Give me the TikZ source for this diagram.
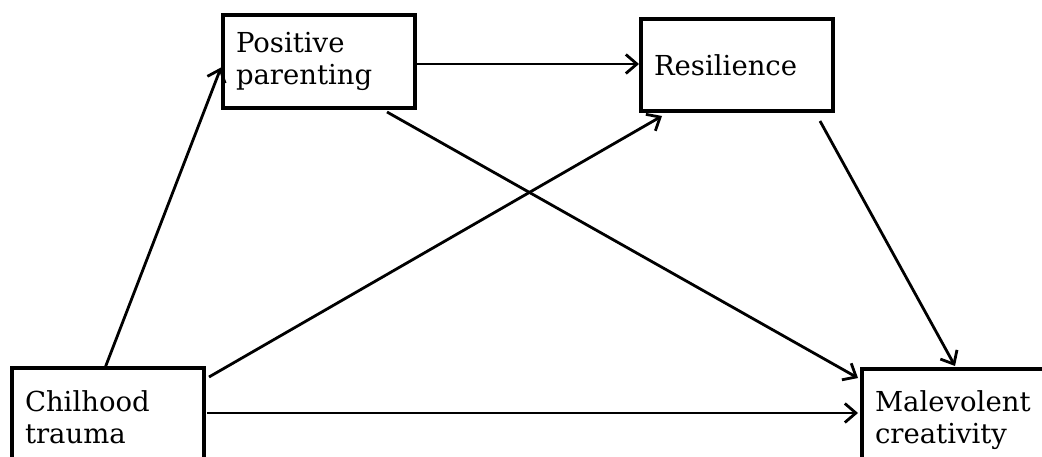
\documentclass[tikz,border=0pt]{standalone}
\usepackage{fontspec}
\setmainfont{DejaVu Serif}
\usetikzlibrary{arrows.meta}
\begin{document}
\begin{tikzpicture}[x=1pt,y=-1pt,
  box/.style={draw, line width=3.4pt, outer sep=0pt, text width=166pt, inner xsep=13pt, inner ysep=0pt,
    minimum width=192pt, align=left, font={\fontsize{27.5}{32}\selectfont}, anchor=north west},
  link/.style={line width=2.8pt, -{Straight Barb[length=11pt,width=19pt,line width=2.8pt]}}]
\useasboundingbox (0,0) rectangle (1042,457);
\clip (0,0) rectangle (1042,457);
\fill[white] (0,0) rectangle (1042,457);

\node[box, minimum height=93pt] (pp) at (223,15) {Positive\\parenting};
\node[box, minimum height=92pt] (res) at (641,19) {Resilience};
\node[box, minimum height=99pt] (cht) at (12,368) {Chilhood\\trauma};
\node[box, minimum height=102pt, text width=180pt, minimum width=206pt] (mc) at (862,369) {Malevolent\\creativity};

\draw[link] ([xshift=93pt]cht.north west) -- ([xshift=-2pt,yshift=-6pt]pp.west);
\draw[link] ([yshift=-2.5pt]pp.east) -- ([xshift=-2pt,yshift=1pt]res.west);
\draw[link] ([xshift=5pt,yshift=-9pt]cht.north east) -- ([xshift=21pt,yshift=-5pt]res.south west);
\draw[link] ([xshift=164pt,yshift=-4pt]pp.south west) -- ([xshift=-4pt,yshift=-9pt]mc.north west);
\draw[link] ([xshift=-13pt,yshift=-10pt]res.south east) -- ([xshift=93pt,yshift=3pt]mc.north west);
\draw[link] ([xshift=3pt,yshift=4.5pt]cht.east) -- ([xshift=-4pt,yshift=7pt]mc.west);
\end{tikzpicture}
\end{document}
